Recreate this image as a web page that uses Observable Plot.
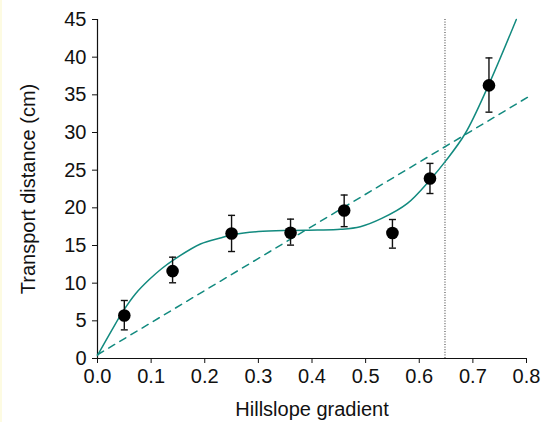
<!DOCTYPE html>
<html>
<head>
<meta charset="utf-8">
<script src="https://cdn.jsdelivr.net/npm/d3@7"></script>
<script src="https://cdn.jsdelivr.net/npm/@observablehq/plot@0.6"></script>
<style>
  html, body { margin: 0; padding: 0; background: #ffffff; }
  #wrap { position: relative; width: 553px; height: 422px; overflow: hidden; }
  #edge { position: absolute; left: 0; top: 0; width: 2px; height: 422px; background: #fdfbe2; }
  svg { display: block; }
</style>
</head>
<body>
<div id="wrap"><div id="chart"></div><div id="edge"></div></div>
<script>
// Observed points (mean with error bar bounds)
const gradient = [0.05, 0.14, 0.25, 0.36, 0.46, 0.55, 0.62, 0.73];
const distance = [5.7, 11.6, 16.6, 16.7, 19.65, 16.65, 23.9, 36.25];
const errLow   = [3.8, 10.05, 14.2, 15.05, 17.5, 14.65, 21.9, 32.7];
const errHigh  = [7.7, 13.45, 19.0, 18.5, 21.7, 18.45, 25.9, 39.9];

// Nonlinear fit curve
const fitX = [0, 0.027, 0.046, 0.071, 0.096, 0.12, 0.142, 0.192, 0.229, 0.254, 0.30, 0.36, 0.41, 0.453, 0.49, 0.53, 0.578, 0.62, 0.649, 0.686, 0.729, 0.781];
const fitY = [0.4, 3.8, 6.1, 8.6, 10.45, 11.95, 13.1, 15.2, 16.0, 16.45, 16.85, 17.0, 17.05, 17.15, 17.5, 18.6, 20.6, 23.7, 26.2, 29.9, 36.25, 45];

// Linear fit (dashed)
const linX = [0, 0.805];
const linY = [0.5, 34.8];

// Threshold gradient (dotted vertical)
const threshold = [0.648];

// Tick labels
const xTicks = [0, 0.1, 0.2, 0.3, 0.4, 0.5, 0.6, 0.7, 0.8];
const yTicks = [0, 5, 10, 15, 20, 25, 30, 35, 40, 45];

const points = gradient.map((x, i) => ({x, y: distance[i], lo: errLow[i], hi: errHigh[i]}));
const fit = fitX.map((x, i) => ({x, y: fitY[i]}));
const lin = linX.map((x, i) => ({x, y: linY[i]}));

const teal = "#128a7f";
const capSymbol = { draw(ctx, size) { const w = 3.5; ctx.moveTo(-w, 0); ctx.lineTo(w, 0); } };

const chart = Plot.plot({
  width: 553,
  height: 422,
  marginLeft: 97,
  marginRight: 27,
  marginTop: 19,
  marginBottom: 64,
  style: { fontFamily: "'Liberation Sans', Arial, Helvetica, sans-serif", fontSize: "20px", color: "#111", background: "transparent" },
  x: { domain: [0, 0.8] },
  y: { domain: [0, 45] },
  marks: [
    Plot.axisX({ ticks: xTicks, tickFormat: d3.format(".1f"), tickSize: 5, tickPadding: 5, fontSize: 20, label: null, stroke: "#111" }),
    Plot.axisY({ ticks: yTicks, tickFormat: d3.format("d"), tickSize: 5, tickPadding: 6, fontSize: 20, label: null, stroke: "#111" }),
    Plot.text(["Hillslope gradient"], { frameAnchor: "bottom", dy: 57, fontSize: 20, fill: "#111", lineAnchor: "bottom" }),
    Plot.text(["Transport distance (cm)"], { frameAnchor: "left", dx: -69, rotate: -90, textAnchor: "middle", fontSize: 20, fill: "#111" }),
    Plot.ruleX([0], { stroke: "#111", strokeWidth: 1.2 }),
    Plot.ruleY([0], { stroke: "#111", strokeWidth: 1.2 }),
    Plot.ruleX(threshold, { stroke: "#333", strokeWidth: 1, strokeDasharray: "1,1.6" }),
    Plot.line(lin, { x: "x", y: "y", stroke: teal, strokeWidth: 1.5, strokeDasharray: "7,6", clip: false }),
    Plot.line(fit, { x: "x", y: "y", stroke: teal, strokeWidth: 1.5, curve: "catmull-rom" }),
    Plot.ruleX(points, { x: "x", y1: "lo", y2: "hi", stroke: "#111", strokeWidth: 1.4 }),
    Plot.dot(points, { x: "x", y: "lo", symbol: capSymbol, r: 4, stroke: "#111", strokeWidth: 1.4, fill: "none" }),
    Plot.dot(points, { x: "x", y: "hi", symbol: capSymbol, r: 4, stroke: "#111", strokeWidth: 1.4, fill: "none" }),
    Plot.dot(points, { x: "x", y: "y", r: 6.3, fill: "#000", stroke: "none" })
  ]
});
document.getElementById("chart").appendChild(chart);
</script>
</body>
</html>
